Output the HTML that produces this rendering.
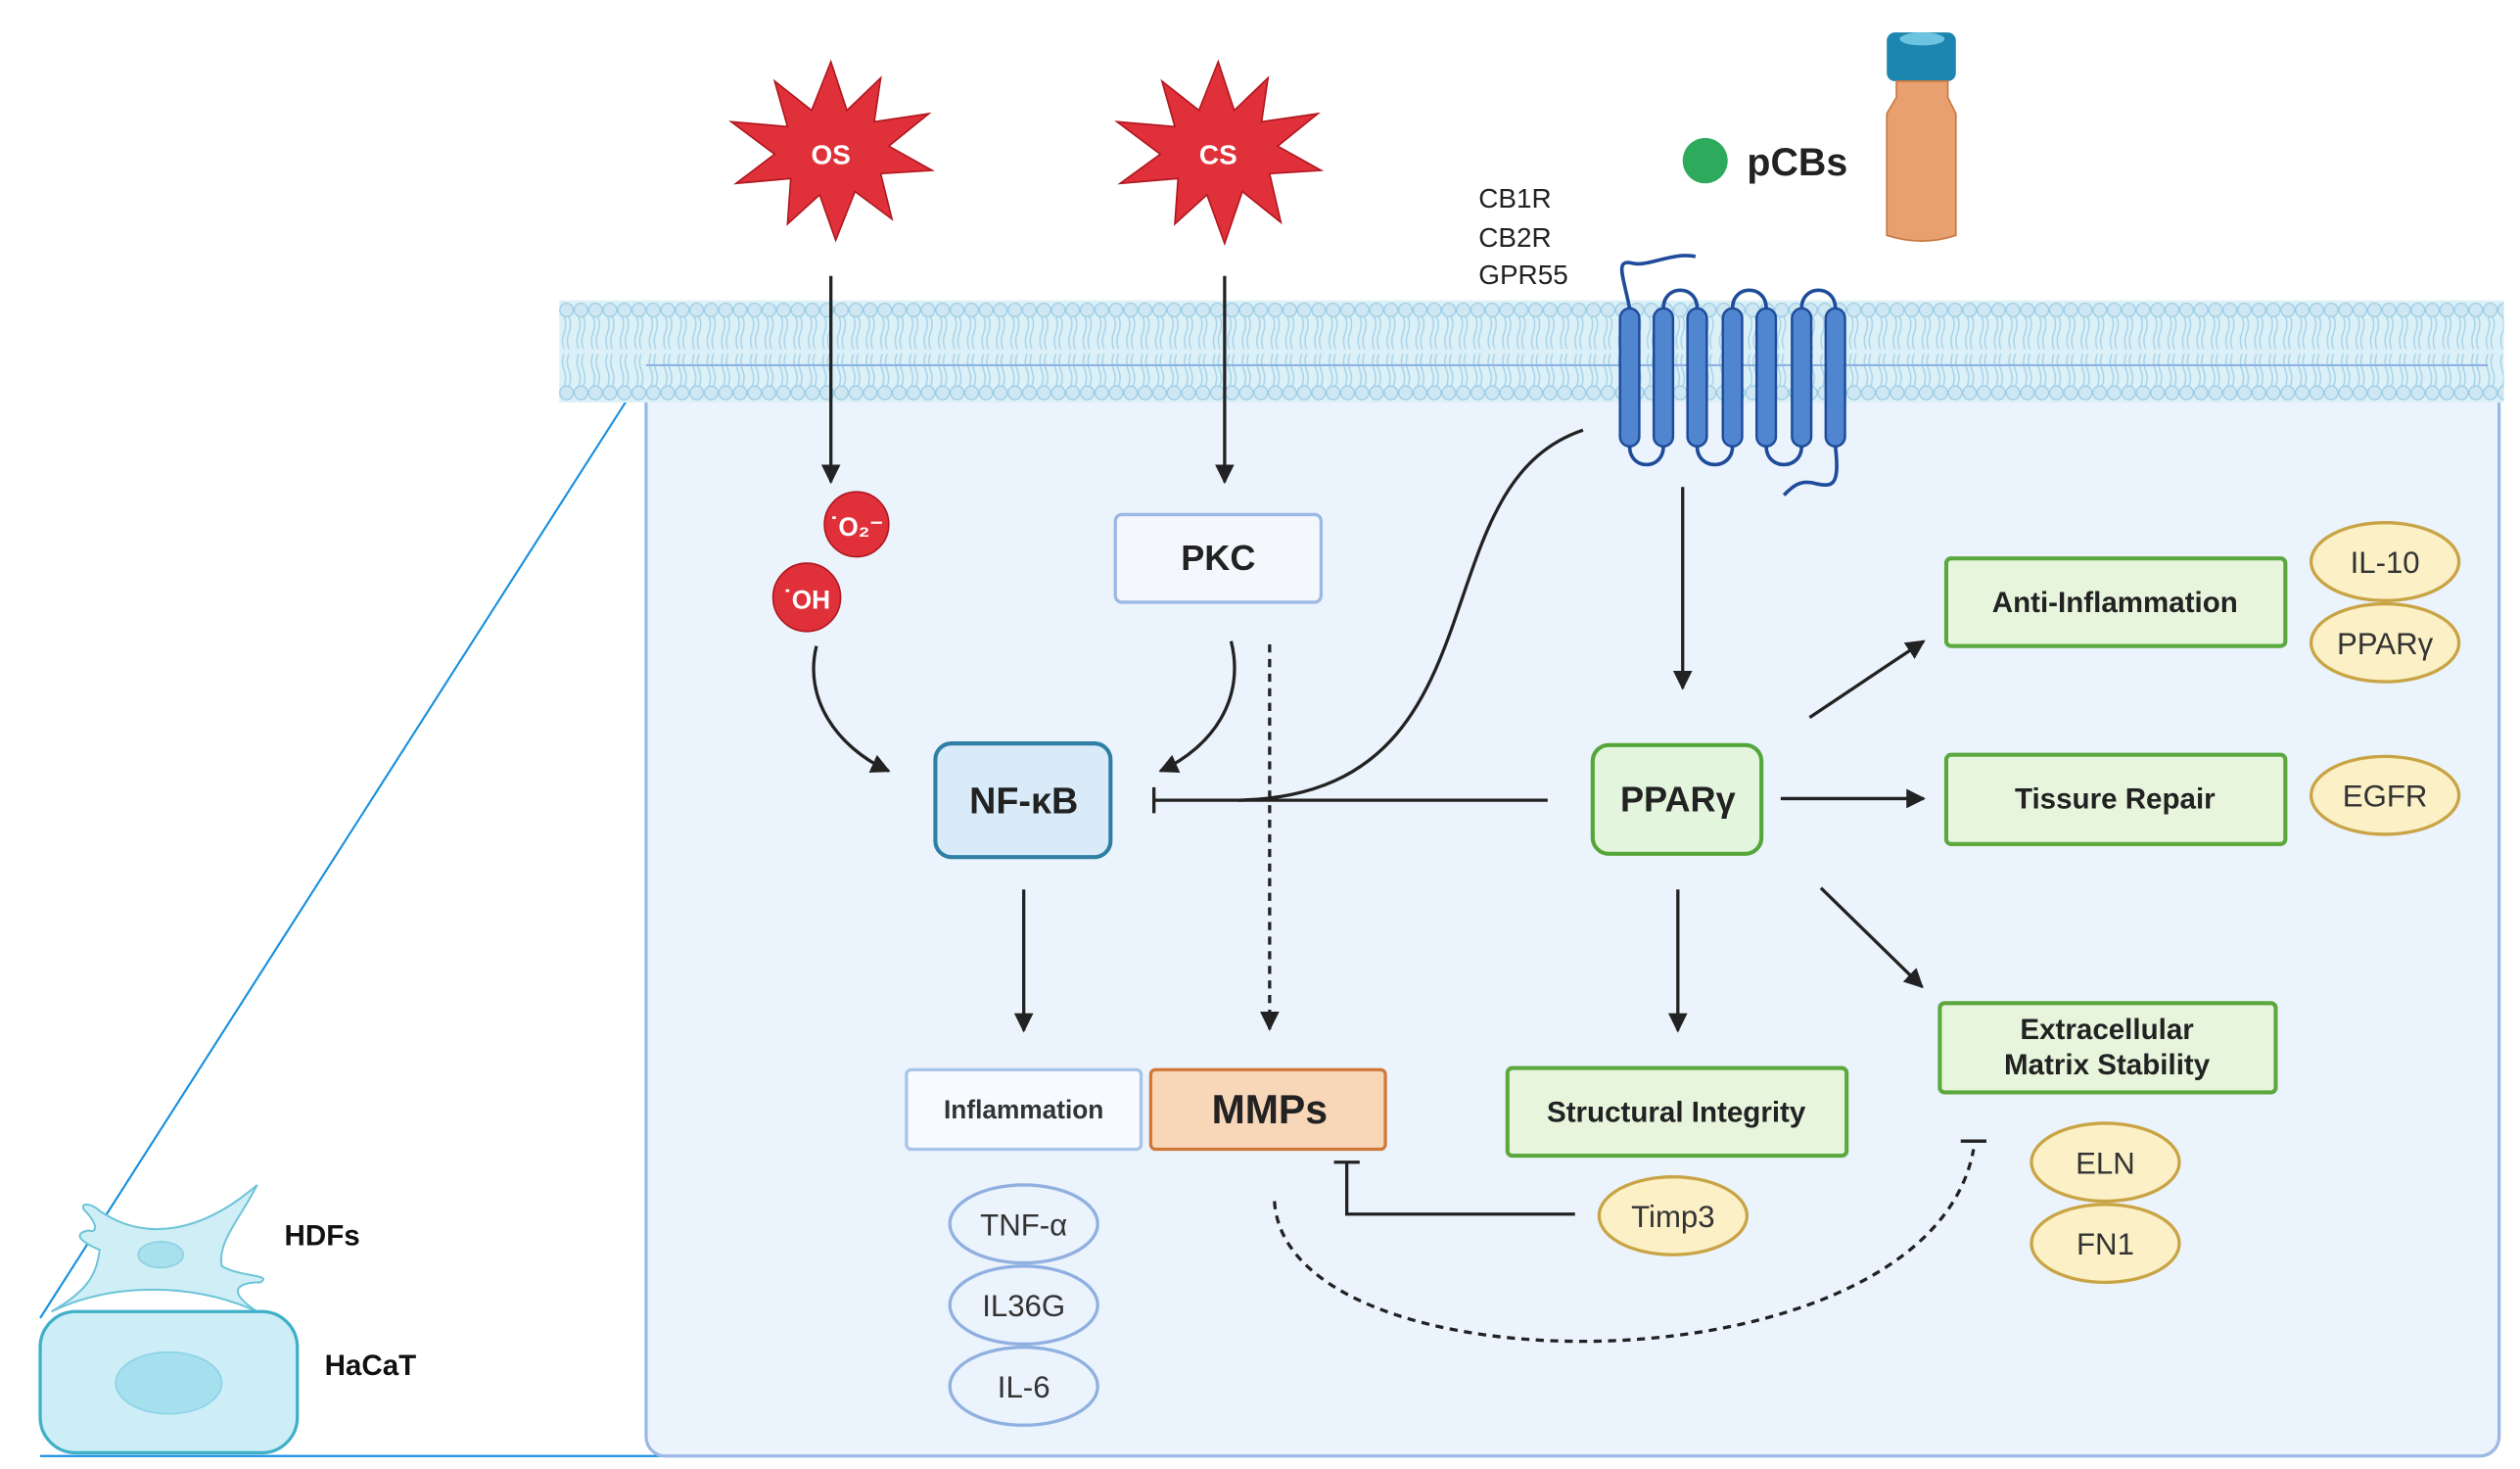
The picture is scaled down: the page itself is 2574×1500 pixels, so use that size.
<!DOCTYPE html>
<html><head><meta charset="utf-8"><style>
html,body{margin:0;padding:0;background:#fff;}
svg{display:block;}
text{font-family:"Liberation Sans",Arial,sans-serif;}
</style></head><body>
<svg width="2574" height="1500" viewBox="0 0 1568 905" preserveAspectRatio="none" xmlns="http://www.w3.org/2000/svg">
<defs>
<marker id="ar" viewBox="0 0 10 10" refX="9" refY="5" markerWidth="6" markerHeight="6" orient="auto"><path d="M0,0 L10,5 L0,10 z" fill="#222"/></marker>
<pattern id="mem" x="348" y="185" width="9" height="63" patternUnits="userSpaceOnUse">
<circle cx="4.5" cy="6" r="4.2" fill="#cfe7f3" stroke="#9ccde4" stroke-width="0.8"/>
<circle cx="4.5" cy="57" r="4.2" fill="#cfe7f3" stroke="#9ccde4" stroke-width="0.8"/>
<path d="M3,10 q2,5 0,10 q-2,5 0,10 M6,10 q2,5 0,10 q-2,5 0,10 M3,53 q2,-5 0,-10 q-2,-5 0,-10 M6,53 q2,-5 0,-10 q-2,-5 0,-10" stroke="#a8d3e8" stroke-width="0.9" fill="none"/>
</pattern>
</defs>
<line x1="402" y1="228" x2="25" y2="812" stroke="#1a8fe0" stroke-width="1.3"/>
<line x1="25" y1="897" x2="460" y2="897" stroke="#1a8fe0" stroke-width="1.3"/>
<rect x="402" y="225" width="1153" height="672" rx="12" fill="#ebf3fc" stroke="#9bb9e4" stroke-width="2"/>
<rect x="348" y="185" width="1210" height="63" fill="#dcf0f8"/>
<rect x="348" y="185" width="1210" height="63" fill="url(#mem)"/>
<line x1="402" y1="225" x2="1548" y2="225" stroke="#8db3e2" stroke-width="1.3"/>
<!-- HDFs / HaCaT -->
<path d="M32,808 C55,795 60,785 62,770 C50,765 45,760 55,758 C60,760 62,755 52,745 C50,740 58,742 62,746 C90,765 125,760 160,730 C150,750 135,765 138,780 C150,787 170,785 162,790 C148,790 140,795 160,808 C120,790 70,790 32,808 Z" fill="#cfeef5" stroke="#6cc4d8" stroke-width="1.2"/>
<ellipse cx="100" cy="773" rx="14" ry="8" fill="#a9e0ee" stroke="#8dd0e2"/>
<rect x="25" y="808" width="160" height="87" rx="22" fill="#cdeef7" stroke="#3fb0c8" stroke-width="2"/>
<ellipse cx="105" cy="852" rx="33" ry="19" fill="#a6e0ee" stroke="#8cd3e4"/>
<text x="177" y="767" font-size="18" font-weight="bold" fill="#111">HDFs</text>
<text x="202" y="847" font-size="18" font-weight="bold" fill="#111">HaCaT</text>
<polygon points="517,38 527,68 548,48 544,75 578,70 553,90 580,105 548,107 555,135 532,118 520,148 510,120 490,138 492,110 458,113 482,95 455,75 490,78 482,50 505,68" fill="#e0303a" stroke="#b01820" stroke-width="1"/>
<text x="517" y="101" font-size="17" font-weight="bold" fill="#fff" text-anchor="middle">OS</text>
<polygon points="758,38 768,68 789,48 785,75 820,70 795,90 822,105 790,107 797,137 773,118 762,150 751,120 731,138 733,110 697,113 722,95 695,75 731,78 723,50 746,68" fill="#e0303a" stroke="#b01820" stroke-width="1"/>
<text x="758" y="101" font-size="17" font-weight="bold" fill="#fff" text-anchor="middle">CS</text>
<text x="920" y="128" font-size="17" fill="#222">CB1R</text>
<text x="920" y="152" font-size="17" fill="#222">CB2R</text>
<text x="920" y="175" font-size="17" fill="#222">GPR55</text>
<circle cx="1061" cy="99" r="14" fill="#2eaa5c"/>
<text x="1087" y="108" font-size="24" font-weight="bold" fill="#222">pCBs</text>
<rect x="1174" y="20" width="43" height="30" rx="5" fill="#1d86b0"/>
<ellipse cx="1196" cy="24" rx="14" ry="4" fill="#6cc4e0"/>
<path d="M1180,50 L1212,50 L1212,60 L1217,70 L1217,145 Q1196,152 1174,145 L1174,70 L1180,60 Z" fill="#e8a070" stroke="#c87840"/>
<g fill="#4f86cf" stroke="#1f4c9a" stroke-width="1.5">
<rect x="1008" y="190" width="12" height="85" rx="6"/><rect x="1029" y="190" width="12" height="85" rx="6"/>
<rect x="1050" y="190" width="12" height="85" rx="6"/><rect x="1072" y="190" width="12" height="85" rx="6"/>
<rect x="1093" y="190" width="12" height="85" rx="6"/><rect x="1115" y="190" width="12" height="85" rx="6"/>
<rect x="1136" y="190" width="12" height="85" rx="6"/>
</g>
<path d="M1014,190 C1010,170 1005,160 1015,162 C1025,165 1040,155 1055,158 M1035,190 C1035,175 1056,175 1056,190 M1078,190 C1078,175 1099,175 1099,190 M1121,190 C1121,175 1142,175 1142,190 M1014,275 C1014,290 1035,290 1035,275 M1056,275 C1056,290 1078,290 1078,275 M1099,275 C1099,290 1121,290 1121,275 M1142,275 C1145,300 1140,300 1130,298 C1120,295 1115,300 1110,305" fill="none" stroke="#1f4c9a" stroke-width="2.2"/>
<g stroke="#222" stroke-width="2" fill="none">
<line x1="517" y1="170" x2="517" y2="297" marker-end="url(#ar)"/>
<line x1="762" y1="170" x2="762" y2="297" marker-end="url(#ar)"/>
<path d="M508,398 C500,430 520,460 553,475" marker-end="url(#ar)"/>
<path d="M766,395 C775,430 755,460 722,475" marker-end="url(#ar)"/>
<line x1="790" y1="397" x2="790" y2="634" stroke-dasharray="5,4" marker-end="url(#ar)"/>
<line x1="963" y1="493" x2="718" y2="493"/>
<line x1="718" y1="485" x2="718" y2="501"/>
<path d="M985,265 C880,300 940,490 770,493"/>
<line x1="1047" y1="300" x2="1047" y2="424" marker-end="url(#ar)"/>
<line x1="1108" y1="492" x2="1197" y2="492" marker-end="url(#ar)"/>
<line x1="1126" y1="442" x2="1197" y2="395" marker-end="url(#ar)"/>
<line x1="1133" y1="547" x2="1196" y2="608" marker-end="url(#ar)"/>
<line x1="1044" y1="548" x2="1044" y2="635" marker-end="url(#ar)"/>
<line x1="637" y1="548" x2="637" y2="635" marker-end="url(#ar)"/>
<path d="M980,748 L838,748 L838,716"/>
<line x1="830" y1="716" x2="846" y2="716"/>
<path d="M793,740 C800,860 1200,860 1228,708" stroke-dasharray="5,4"/>
<line x1="1220" y1="703" x2="1236" y2="703"/>
</g>
<circle cx="533" cy="323" r="20" fill="#e0303a" stroke="#b01820"/>
<text x="533" y="330" font-size="16" font-weight="bold" fill="#fff" text-anchor="middle">˙O₂⁻</text>
<circle cx="502" cy="368" r="21" fill="#e0303a" stroke="#b01820"/>
<text x="502" y="375" font-size="16" font-weight="bold" fill="#fff" text-anchor="middle">˙OH</text>
<rect x="694" y="317" width="128" height="54" rx="4" fill="#f4f8fd" stroke="#9bb9e4" stroke-width="2"/>
<text x="758" y="351" font-size="22" font-weight="bold" fill="#222" text-anchor="middle">PKC</text>
<rect x="582" y="458" width="109" height="70" rx="10" fill="#d9ebf9" stroke="#2f7fa5" stroke-width="2.5"/>
<text x="637" y="501" font-size="23" font-weight="bold" fill="#222" text-anchor="middle">NF-κB</text>
<rect x="991" y="459" width="105" height="67" rx="10" fill="#e3f5dd" stroke="#55a63a" stroke-width="2.5"/>
<text x="1044" y="500" font-size="22" font-weight="bold" fill="#222" text-anchor="middle">PPARγ</text>
<g fill="#e6f5dc" stroke="#5aa83e" stroke-width="2.5">
<rect x="1211" y="344" width="211" height="54" rx="3"/>
<rect x="1211" y="465" width="211" height="55" rx="3"/>
<rect x="1207" y="618" width="209" height="55" rx="3"/>
<rect x="938" y="658" width="211" height="54" rx="3"/>
</g>
<g font-size="18" font-weight="bold" fill="#222" text-anchor="middle">
<text x="1316" y="377">Anti-Inflammation</text>
<text x="1316" y="498">Tissure Repair</text>
<text x="1311" y="640">Extracellular</text>
<text x="1311" y="662">Matrix Stability</text>
<text x="1043" y="691">Structural Integrity</text>
</g>
<rect x="564" y="659" width="146" height="49" rx="3" fill="#f7faff" stroke="#a8c4e8" stroke-width="2"/>
<text x="637" y="689" font-size="16" font-weight="bold" fill="#333" text-anchor="middle">Inflammation</text>
<rect x="716" y="659" width="146" height="49" rx="3" fill="#f8d6b8" stroke="#d0783a" stroke-width="2"/>
<text x="790" y="692" font-size="25" font-weight="bold" fill="#222" text-anchor="middle">MMPs</text>
<g fill="#fbf0c6" stroke="#c9a445" stroke-width="2">
<ellipse cx="1484" cy="346" rx="46" ry="24"/><ellipse cx="1484" cy="396" rx="46" ry="24"/>
<ellipse cx="1484" cy="490" rx="46" ry="24"/><ellipse cx="1310" cy="716" rx="46" ry="24"/>
<ellipse cx="1310" cy="766" rx="46" ry="24"/><ellipse cx="1041" cy="749" rx="46" ry="24"/>
</g>
<g fill="#ebf3fc" stroke="#8fb0e0" stroke-width="2">
<ellipse cx="637" cy="754" rx="46" ry="24"/><ellipse cx="637" cy="804" rx="46" ry="24"/><ellipse cx="637" cy="854" rx="46" ry="24"/>
</g>
<g font-size="19" fill="#333" text-anchor="middle">
<text x="1484" y="353">IL-10</text><text x="1484" y="403">PPARγ</text><text x="1484" y="497">EGFR</text>
<text x="1310" y="723">ELN</text><text x="1310" y="773">FN1</text><text x="1041" y="756">Timp3</text>
<text x="637" y="761">TNF-α</text><text x="637" y="811">IL36G</text><text x="637" y="861">IL-6</text>
</g>
</svg>
</body></html>
